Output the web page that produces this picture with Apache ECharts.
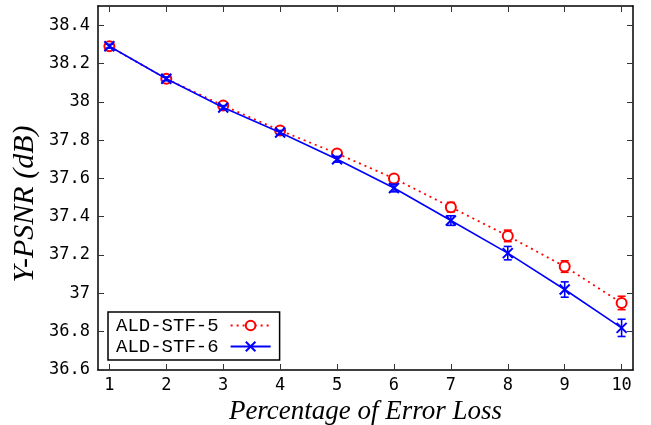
<!DOCTYPE html>
<html>
<head>
<meta charset="utf-8">
<script src="https://cdn.jsdelivr.net/npm/echarts@6/dist/echarts.min.js"></script>
<style>html,body{margin:0;padding:0;background:#fff}#c{width:651px;height:425px}</style>
</head>
<body>
<div id="c"></div>
<script>
const xValues = [1, 2, 3, 4, 5, 6, 7, 8, 9, 10];
const stf5 = [38.29, 38.12, 37.98, 37.85, 37.73, 37.60, 37.45, 37.30, 37.14, 36.95];
const stf5Err = [0.01, 0.01, 0.01, 0.01, 0.015, 0.015, 0.025, 0.03, 0.03, 0.035];
const stf6 = [38.29, 38.12, 37.97, 37.84, 37.70, 37.55, 37.38, 37.21, 37.02, 36.82];
const stf6Err = [0.01, 0.01, 0.01, 0.01, 0.015, 0.02, 0.025, 0.035, 0.04, 0.045];
const xTicks = [1, 2, 3, 4, 5, 6, 7, 8, 9, 10];
const yTicks = [36.6, 36.8, 37, 37.2, 37.4, 37.6, 37.8, 38, 38.2, 38.4];
const seriesNames = ['ALD-STF-5', 'ALD-STF-6'];

const mono = 'DejaVu Sans Mono';
const legendMono = 'Liberation Mono';
const serif = 'Liberation Serif';

function pairs(vals) { return xValues.map((x, i) => [x, vals[i]]); }
function errData(vals, errs) { return xValues.map((x, i) => [x, vals[i] - errs[i], vals[i] + errs[i]]); }

function errorBar(color) {
  return function (params, api) {
    const x = api.value(0);
    const lo = api.coord([x, api.value(1)]);
    const hi = api.coord([x, api.value(2)]);
    const w = 4;
    const style = { stroke: color, lineWidth: 1.6 };
    return {
      type: 'group',
      children: [
        { type: 'line', shape: { x1: lo[0], y1: lo[1], x2: hi[0], y2: hi[1] }, style },
        { type: 'line', shape: { x1: lo[0] - w, y1: lo[1], x2: lo[0] + w, y2: lo[1] }, style },
        { type: 'line', shape: { x1: hi[0] - w, y1: hi[1], x2: hi[0] + w, y2: hi[1] }, style }
      ]
    };
  };
}

const chart = echarts.init(document.getElementById('c'), null, { renderer: 'canvas' });
const tickStyle = { show: true, inside: true, length: 6, lineStyle: { color: '#333', width: 1 } };
chart.setOption({
  animation: false,
  backgroundColor: '#fff',
  grid: { left: 98, right: 18, top: 6, bottom: 55, outerBoundsMode: 'none', containLabel: false },
  graphic: [
    {
      type: 'text', x: 25, y: 204, rotation: Math.PI / 2,
      style: {
        text: 'Y-PSNR (dB)', fontFamily: serif, fontStyle: 'italic', fontSize: 30,
        fill: '#000', align: 'center', verticalAlign: 'middle'
      }
    }
  ],
  xAxis: [
    {
      type: 'value', min: 0.8, max: 10.2, position: 'bottom',
      axisLine: { show: true, onZero: false, lineStyle: { color: '#000', width: 1.5 } },
      axisTick: Object.assign({}, tickStyle, { customValues: xTicks }),
      axisLabel: { customValues: xTicks, fontFamily: mono, fontSize: 17, color: '#000', margin: 7 },
      splitLine: { show: false },
      name: 'Percentage of Error Loss', nameLocation: 'middle', nameGap: 27,
      nameTextStyle: { fontFamily: serif, fontStyle: 'italic', fontSize: 27, color: '#000' }
    },
    {
      type: 'value', min: 0.8, max: 10.2, position: 'top',
      axisLine: { show: true, onZero: false, lineStyle: { color: '#000', width: 1.5 } },
      axisTick: Object.assign({}, tickStyle, { customValues: xTicks }),
      axisLabel: { show: false },
      splitLine: { show: false }
    }
  ],
  yAxis: [
    {
      type: 'value', min: 36.6, max: 38.5, position: 'left',
      axisLine: { show: true, onZero: false, lineStyle: { color: '#000', width: 1.5 } },
      axisTick: Object.assign({}, tickStyle, { customValues: yTicks }),
      axisLabel: { customValues: yTicks, fontFamily: mono, fontSize: 17, color: '#000', margin: 8 },
      splitLine: { show: false }
    },
    {
      type: 'value', min: 36.6, max: 38.5, position: 'right',
      axisLine: { show: true, onZero: false, lineStyle: { color: '#000', width: 1.5 } },
      axisTick: Object.assign({}, tickStyle, { customValues: yTicks }),
      axisLabel: { show: false },
      splitLine: { show: false }
    }
  ],
  legend: {
    left: 108, top: 312, orient: 'vertical', align: 'right',
    data: seriesNames,
    backgroundColor: '#fff', borderColor: '#000', borderWidth: 1.5,
    padding: [4, 8, 4, 8], itemGap: 2, itemWidth: 40, itemHeight: 12,
    textStyle: { fontFamily: legendMono, fontSize: 19, color: '#000', padding: [0, 7, 0, 0], lineHeight: 18 }
  },
  series: [
    {
      name: seriesNames[0], type: 'line', data: pairs(stf5), z: 2,
      color: '#ff0000',
      symbol: 'emptyCircle', symbolSize: 10,
      itemStyle: { color: '#ff0000', borderColor: '#ff0000', borderWidth: 2 },
      lineStyle: { color: '#ff0000', width: 1.8, type: [2, 4] }
    },
    {
      name: seriesNames[1], type: 'line', data: pairs(stf6), z: 3,
      color: '#0000ff',
      symbol: 'path://M0,0L10,10M0,10L10,0', symbolSize: 10,
      itemStyle: { color: '#0000ff', borderColor: '#0000ff', borderWidth: 2 },
      lineStyle: { color: '#0000ff', width: 1.6 }
    },
    {
      name: 'err5', type: 'custom', data: errData(stf5, stf5Err), z: 2,
      renderItem: errorBar('#ff0000'), encode: { x: 0, y: [1, 2] }, silent: true
    },
    {
      name: 'err6', type: 'custom', data: errData(stf6, stf6Err), z: 3,
      renderItem: errorBar('#0000ff'), encode: { x: 0, y: [1, 2] }, silent: true
    }
  ]
});
</script>
</body>
</html>
